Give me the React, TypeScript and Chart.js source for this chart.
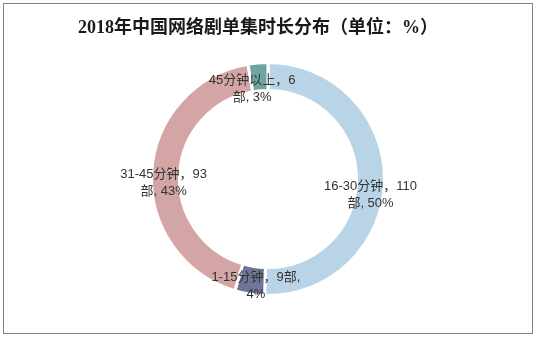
import React, { useEffect, useRef } from "react";
import { Chart, registerables } from "chart.js";

Chart.register(...registerables);

const TITLE = "2018年中国网络剧单集时长分布（单位：%）";
const categories = ["16-30分钟", "1-15分钟", "31-45分钟", "45分钟以上"];
const values = [110, 9, 93, 6];
const percents = ["50%", "4%", "43%", "3%"];
const labelLines = [
  ["16-30分钟，110", "部, 50%"],
  ["1-15分钟，9部,", "4%"],
  ["31-45分钟，93", "部, 43%"],
  ["45分钟以上，6", "部, 3%"],
];
const colors = ["#b8d4e6", "#6f7599", "#d4a5a5", "#70a4a1"];

// label nudges relative to each arc's centre point (layout only)
const LABEL_NUDGE = [
  [0, 14],
  [4, 6],
  [-2, 10],
  [-7, 12],
];

const titlePlugin = {
  id: "customTitle",
  afterDraw(chart: any) {
    const ctx = chart.ctx;
    ctx.save();
    ctx.font = 'bold 18px "Liberation Serif", "Noto Sans CJK SC", serif';
    ctx.fillStyle = "#1a1a1a";
    ctx.textAlign = "center";
    ctx.textBaseline = "middle";
    ctx.fillText(TITLE, 258, 28);
    ctx.restore();
  },
};

const labelPlugin = {
  id: "sliceLabels",
  afterDatasetsDraw(chart: any) {
    const ctx = chart.ctx;
    const meta = chart.getDatasetMeta(0);
    ctx.save();
    ctx.font = '13px "Liberation Sans", "Noto Sans CJK SC", sans-serif';
    ctx.fillStyle = "#333333";
    ctx.textAlign = "center";
    ctx.textBaseline = "middle";
    meta.data.forEach((arc: any, i: number) => {
      const p = arc.tooltipPosition();
      const lines = labelLines[i];
      const lh = 17;
      const cx = p.x + LABEL_NUDGE[i][0];
      const cy = p.y + LABEL_NUDGE[i][1];
      lines.forEach((t, k) => {
        ctx.fillText(t, cx, cy + (k - (lines.length - 1) / 2) * lh);
      });
    });
    ctx.restore();
  },
};

export default function App() {
  const ref = useRef<HTMLCanvasElement>(null);
  useEffect(() => {
    document.body.style.margin = "0";
    const chart = new Chart(ref.current!, {
      type: "doughnut",
      data: {
        labels: categories,
        datasets: [
          {
            data: values,
            backgroundColor: colors,
            borderColor: "#ffffff",
            borderWidth: 3,
          },
        ],
      },
      options: {
        animation: false,
        responsive: false,
        cutout: "76%",
        layout: { padding: { top: 61, bottom: 40, left: 0, right: 0 } },
        plugins: {
          legend: { display: false },
          tooltip: { enabled: false },
          title: { display: false },
        },
      },
      plugins: [labelPlugin, titlePlugin],
    });
    return () => chart.destroy();
  }, []);
  return (
    <div style={{ position: "relative", width: 536, height: 337, background: "#fff" }}>
      <canvas ref={ref} width={536} height={337} style={{ position: "absolute", left: 0, top: 0 }} />
      <div
        style={{
          position: "absolute",
          left: 3,
          top: 3,
          width: 528,
          height: 329,
          border: "1px solid #808080",
          pointerEvents: "none",
        }}
      />
    </div>
  );
}
